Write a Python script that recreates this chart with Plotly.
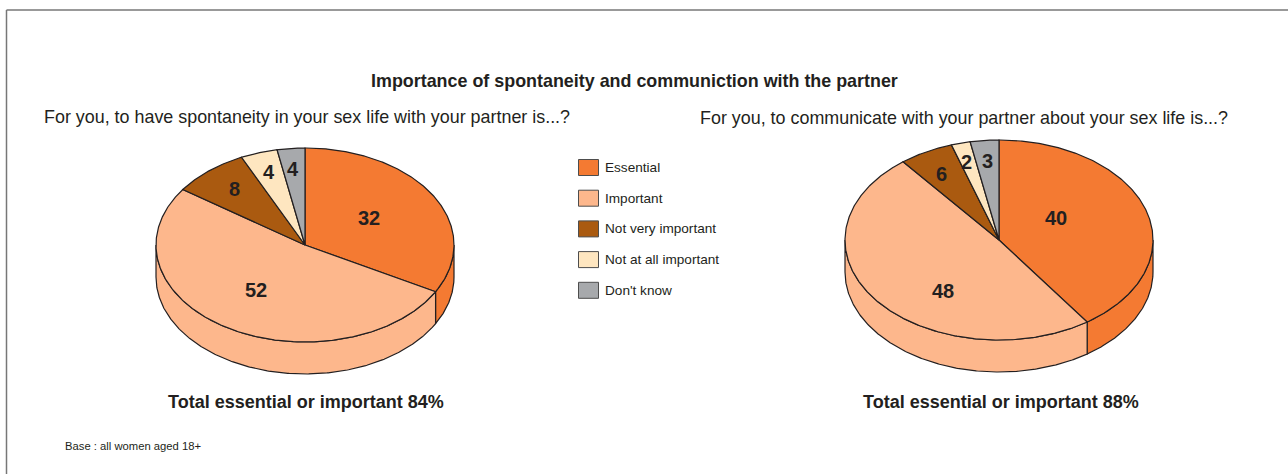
import numpy as np
import plotly.graph_objects as go

CATEGORIES = ["Essential", "Important", "Not very important", "Not at all important", "Don't know"]
COLORS = ["#F47A32", "#FDB78C", "#AA5A10", "#FEE6C0", "#A7A9AC"]

# printed numbers, and the slice sizes as they are drawn (the drawn angles differ a little)
LEFT_LABELS = [32, 52, 8, 4, 4]
LEFT_SHARES = [33.0, 51.7, 8.3, 4.0, 3.0]
RIGHT_LABELS = [40, 48, 6, 2, 3]
RIGHT_SHARES = [40.3, 49.0, 5.7, 2.0, 3.0]

INK = "#231F20"
FONT = "Liberation Sans, Arial, sans-serif"


def arc(cx, cy, rx, ry, start, stop, dy=0.0):
    t = np.radians(np.linspace(start, stop, max(int(abs(stop - start)) * 2, 2)))
    return cx + rx * np.sin(t), cy + dy - ry * np.cos(t)


def add_poly(fig, x, y, color):
    fig.add_trace(go.Scatter(
        x=list(x), y=list(y), mode="lines", fill="toself", fillcolor=color,
        line=dict(color=INK, width=1.2), hoverinfo="skip",
    ))


def add_pie(fig, shares, labels, cx, cy, rx, ry, depth, label_pos):
    edges = np.cumsum([0] + shares) / sum(shares) * 360

    # side wall: only the front half of the rim shows
    for i, color in enumerate(COLORS):
        a, b = max(edges[i], 90), min(edges[i + 1], 270)
        if a < b:
            x1, y1 = arc(cx, cy, rx, ry, a, b)
            x2, y2 = arc(cx, cy, rx, ry, b, a, depth)
            add_poly(fig, np.r_[x1, x2, x1[0]], np.r_[y1, y2, y1[0]], color)

    for i, color in enumerate(COLORS):
        x, y = arc(cx, cy, rx, ry, edges[i], edges[i + 1])
        add_poly(fig, np.r_[cx, x, cx], np.r_[cy, y, cy], color)

    for (lx, ly), label in zip(label_pos, labels):
        fig.add_annotation(x=lx, y=ly, text=f"<b>{label}</b>", showarrow=False,
                           font=dict(size=20, color=INK, family=FONT))


def add_text(fig, x, y, text, size, anchor="left", bold=False, color=INK, family=FONT):
    fig.add_annotation(x=x, y=y, text=f"<b>{text}</b>" if bold else text, showarrow=False,
                       xanchor=anchor, font=dict(size=size, color=color, family=family))


fig = go.Figure()

add_pie(fig, LEFT_SHARES, LEFT_LABELS, 305, 245, 149, 97, 32,
        [(369, 218), (256, 290), (234, 189), (269, 172), (293, 169)])
add_pie(fig, RIGHT_SHARES, RIGHT_LABELS, 999, 240, 154, 100, 32,
        [(1056, 218), (943, 291), (941, 174), (966, 162), (987, 161)])

# no narrow face is installed, so sizes are set to match the reference's text widths
add_text(fig, 634.5, 81, "Importance of spontaneity and communiction with the partner", 17.9, "center", True)
add_text(fig, 42, 117, "For you, to have spontaneity in your sex life with your partner is...?", 17.9)
add_text(fig, 698, 118, "For you, to communicate with your partner about your sex life is...?", 17.9)
add_text(fig, 305.5, 402, "Total essential or important 84%", 18, "center", True)
add_text(fig, 1001, 402, "Total essential or important 88%", 18, "center", True)
add_text(fig, 63, 446, "Base : all women aged 18+", 11.25)

for i, (name, color) in enumerate(zip(CATEGORIES, COLORS)):
    y = 167.5 + i * 30.7
    fig.add_shape(type="rect", x0=578.5, x1=598.5, y0=y - 8, y1=y + 8, fillcolor=color,
                  line=dict(color="#4D4D4D", width=1))
    add_text(fig, 603, y, name, 13.6)

# frame runs off the right and bottom of the page
fig.add_shape(type="line", x0=6.5, x1=1288, y0=10, y1=10, line=dict(color="#777777", width=1.5))
fig.add_shape(type="line", x0=6.5, x1=6.5, y0=10, y1=474, line=dict(color="#777777", width=1.5))

fig.update_layout(
    width=1288, height=474, margin=dict(l=0, r=0, t=0, b=0),
    paper_bgcolor="white", plot_bgcolor="white", showlegend=False,
    xaxis=dict(range=[0, 1288], visible=False, fixedrange=True),
    yaxis=dict(range=[474, 0], visible=False, fixedrange=True),
)

fig.write_html("out.html", config={"displayModeBar": False},
               post_script="document.body.style.margin = '0';")
